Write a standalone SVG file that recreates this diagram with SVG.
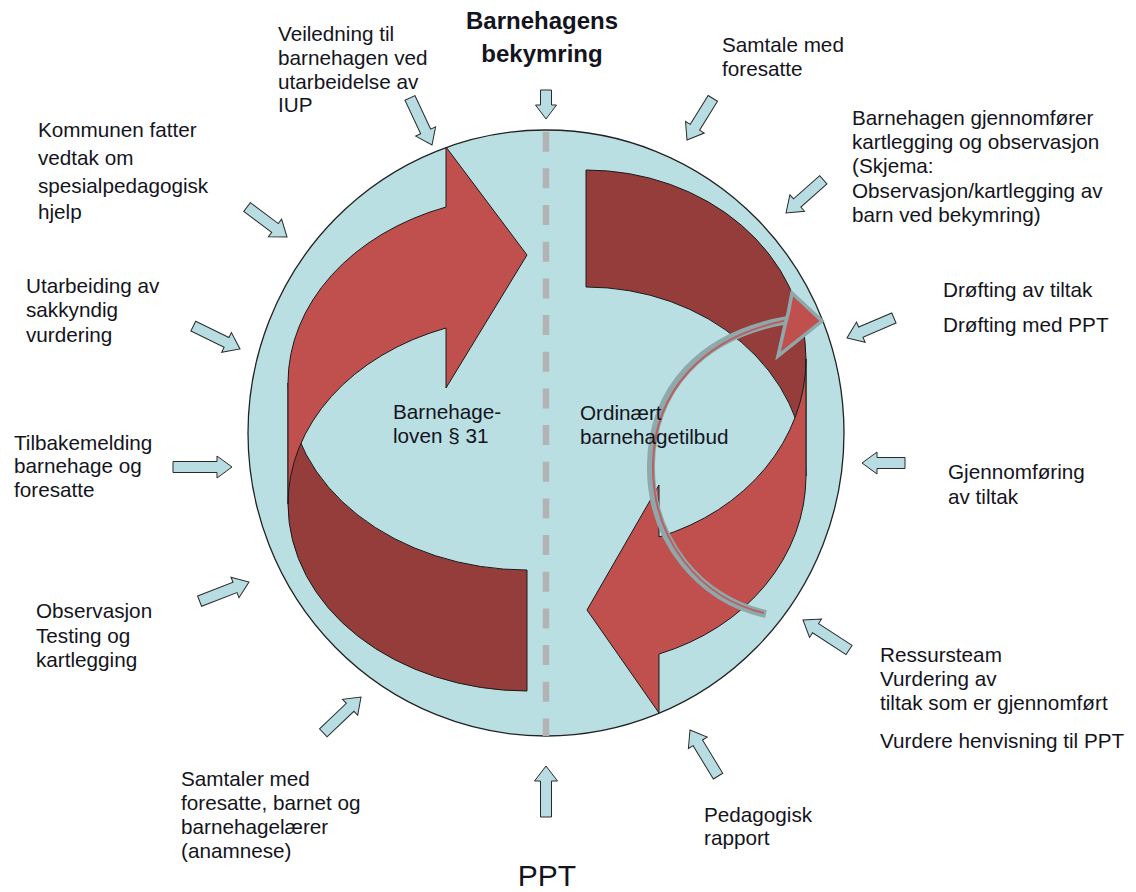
<svg xmlns="http://www.w3.org/2000/svg" width="1136" height="892" viewBox="0 0 1136 892">
<style>
text{font-family:"Liberation Sans",Arial,sans-serif;font-size:20.7px;fill:#141420}
.title{font-weight:bold;font-size:24px;text-anchor:middle}
.ba{fill:#b7dde2;stroke:#2a2a2a;stroke-width:1}
.red{fill:#c0504d;stroke:#1a1a1a;stroke-width:1}
.dark{fill:#953d3b;stroke:#1a1a1a;stroke-width:1}
</style>
<rect width="1136" height="892" fill="#fff"/>
<g id="circle">
<ellipse cx="546" cy="433" rx="298" ry="303" fill="#b9dfe3" stroke="#222" stroke-width="1.3"/>
<line x1="546" y1="131.7" x2="546" y2="736" stroke="#b3b3b3" stroke-width="6.5" stroke-dasharray="20 16.67"/>
</g>
<g id="left-cycle">
<path class="dark" d="M288,383 A239,187 0 0 0 527,570 L527,691 A239,187 0 0 1 288,504 Z"/>
<path class="red" d="M288,383 A239,187 0 0 1 446,207 L446,147 L527,255 L446,388 L446,328 A239,187 0 0 0 288,504 Z"/>
</g>
<g id="right-cycle">
<path class="dark" d="M586,170 A220,189 0 0 1 806,359 L806,476 A220,189 0 0 0 586,287 Z"/>
<path class="red" d="M806,359 A220,189 0 0 1 659,537 L659,485 L587,610 L659,713 L659,654 A220,189 0 0 0 806,476 Z"/>
</g>
<g id="return-arrow">
<path d="M766,614 C700,600 650,540 651,465 C652,390 700,335 788,320" fill="none" stroke="#8fa8ab" stroke-width="8" stroke-linecap="butt"/>
<path d="M764,613 C700,598 652,540 653,465 C654,392 702,337 788,320" fill="none" stroke="#c0504d" stroke-width="2" opacity="0.8"/>
<polygon points="792,293 822,321 778,356 785,325 788,314" fill="#c0504d" stroke="#8fa8ab" stroke-width="3.5" stroke-linejoin="miter"/>
</g>
<g id="connectors">
<path class="ba" transform="translate(546,119) rotate(90)" d="M-29,-5.5 H-14 V-10.5 L0,0 L-14,10.5 V5.5 H-29 Z"/>
<path class="ba" transform="translate(432,145) rotate(64.9)" d="M-52,-5.5 H-15 V-11 L0,0 L-15,11 V5.5 H-52 Z"/>
<path class="ba" transform="translate(687,140) rotate(121.8)" d="M-49,-5.5 H-15 V-11 L0,0 L-15,11 V5.5 H-49 Z"/>
<path class="ba" transform="translate(786,213) rotate(138.3)" d="M-50,-5.5 H-15 V-11 L0,0 L-15,11 V5.5 H-50 Z"/>
<path class="ba" transform="translate(847,338) rotate(156.9)" d="M-51,-5.5 H-15 V-11 L0,0 L-15,11 V5.5 H-51 Z"/>
<path class="ba" transform="translate(862,463) rotate(180)" d="M-43,-5.5 H-15 V-11 L0,0 L-15,11 V5.5 H-43 Z"/>
<path class="ba" transform="translate(803,620) rotate(-146.9)" d="M-55,-5.5 H-15 V-11 L0,0 L-15,11 V5.5 H-55 Z"/>
<path class="ba" transform="translate(690,730) rotate(-121.3)" d="M-54,-5.5 H-15 V-11 L0,0 L-15,11 V5.5 H-54 Z"/>
<path class="ba" transform="translate(546,766) rotate(-90)" d="M-51,-5.5 H-15 V-11.5 L0,0 L-15,11.5 V5.5 H-51 Z"/>
<path class="ba" transform="translate(361,697) rotate(-43.5)" d="M-52,-5.5 H-15 V-11 L0,0 L-15,11 V5.5 H-52 Z"/>
<path class="ba" transform="translate(249,582) rotate(-21.2)" d="M-53,-5.5 H-15 V-11 L0,0 L-15,11 V5.5 H-53 Z"/>
<path class="ba" transform="translate(232,467) rotate(0)" d="M-59,-5.5 H-15 V-11 L0,0 L-15,11 V5.5 H-59 Z"/>
<path class="ba" transform="translate(240,349) rotate(26.1)" d="M-52,-5.5 H-15 V-11 L0,0 L-15,11 V5.5 H-52 Z"/>
<path class="ba" transform="translate(287,237) rotate(36.9)" d="M-50,-5.5 H-15 V-11 L0,0 L-15,11 V5.5 H-50 Z"/>
</g>
<g id="n-bekymring"><text class="title" x="542" y="29">Barnehagens</text><text class="title" x="542" y="62">bekymring</text></g>
<g id="n-ppt"><text x="547" y="886" text-anchor="middle" style="font-size:30px">PPT</text></g>
<g id="n-veiledning"><text x="278" y="41">Veiledning til</text><text x="278" y="65">barnehagen ved</text><text x="278" y="89">utarbeidelse av</text><text x="278" y="112">IUP</text></g>
<g id="n-kommunen"><text x="38" y="137">Kommunen fatter</text><text x="38" y="165">vedtak om</text><text x="38" y="193">spesialpedagogisk</text><text x="38" y="219">hjelp</text></g>
<g id="n-utarbeiding"><text x="26" y="293">Utarbeiding av</text><text x="26" y="317">sakkyndig</text><text x="26" y="342">vurdering</text></g>
<g id="n-tilbakemelding"><text x="14" y="450">Tilbakemelding</text><text x="14" y="473">barnehage og</text><text x="14" y="497">foresatte</text></g>
<g id="n-observasjon"><text x="36" y="618">Observasjon</text><text x="36" y="643">Testing og</text><text x="36" y="667">kartlegging</text></g>
<g id="n-samtaler"><text x="181" y="786">Samtaler med</text><text x="181" y="810">foresatte, barnet og</text><text x="181" y="834">barnehagelærer</text><text x="181" y="858">(anamnese)</text></g>
<g id="n-samtale"><text x="722" y="52">Samtale med</text><text x="722" y="76">foresatte</text></g>
<g id="n-kartlegging"><text x="852" y="125">Barnehagen gjennomfører</text><text x="852" y="149">kartlegging og observasjon</text><text x="852" y="173">(Skjema:</text><text x="852" y="198">Observasjon/kartlegging av</text><text x="852" y="222">barn ved bekymring)</text></g>
<g id="n-drofting"><text x="943" y="297">Drøfting av tiltak</text><text x="943" y="332">Drøfting med PPT</text></g>
<g id="n-gjennomforing"><text x="948" y="479">Gjennomføring</text><text x="948" y="504">av tiltak</text></g>
<g id="n-ressursteam"><text x="880" y="662">Ressursteam</text><text x="880" y="686">Vurdering av</text><text x="880" y="710">tiltak som er gjennomført</text><text x="880" y="748">Vurdere henvisning til PPT</text></g>
<g id="n-rapport"><text x="704" y="822">Pedagogisk</text><text x="704" y="845">rapport</text></g>
<g id="n-loven"><text x="393" y="419">Barnehage-</text><text x="393" y="443">loven § 31</text></g>
<g id="n-ordinaert"><text x="580" y="420">Ordinært</text><text x="580" y="444">barnehagetilbud</text></g>
</svg>
